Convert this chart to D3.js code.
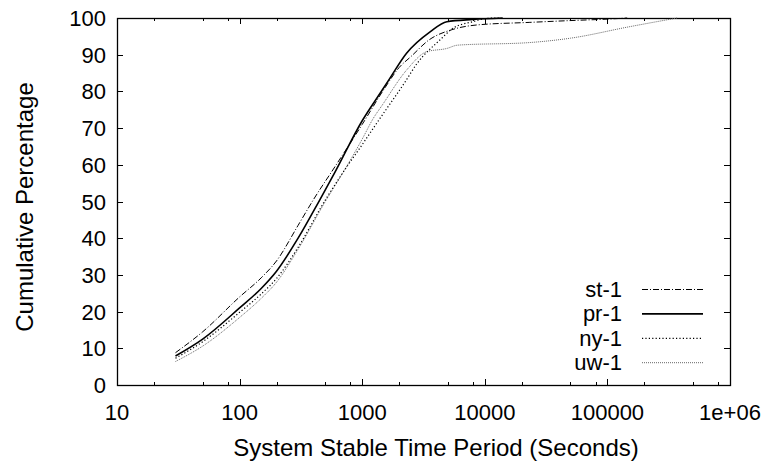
<!DOCTYPE html>
<html>
<head>
<meta charset="utf-8">
<script src="https://cdn.jsdelivr.net/npm/d3@7"></script>
<style>
  body { margin: 0; background: #fff; }
  text { font-family: "Liberation Sans", Arial, sans-serif; fill: #000; }
</style>
</head>
<body>
<svg width="770" height="467"></svg>
<script>
var margin = {top: 18, right: 40, bottom: 82, left: 117};
var width = 770 - margin.left - margin.right;
var height = 467 - margin.top - margin.bottom;
var tickFontSize = 22;
var titleFontSize = 24;

// series values: seconds / cumulative percentage
var stX = [30, 50, 100, 150, 200, 300, 400, 600, 1000, 1500, 2000, 2500, 3500, 5500, 8600, 23000, 50000, 100000, 145000];
var stY = [8.8, 14.5, 24, 29.2, 33.8, 43.5, 50.5, 59.5, 71, 80.5, 86.5, 89.5, 94, 96.9, 98.1, 98.8, 99.3, 99.7, 100];

var prX = [30, 50, 100, 150, 200, 300, 450, 600, 1000, 1400, 1640, 2300, 3600, 4900, 8000, 14000];
var prY = [7.9, 12.5, 21, 26.3, 31, 40, 50.4, 58, 72, 79.5, 83, 90.4, 96.3, 99, 99.6, 100];

var nyX = [30, 50, 100, 150, 200, 300, 500, 700, 1000, 1400, 2240, 2800, 4300, 5500, 8000, 10400, 13000];
var nyY = [7.3, 11.8, 19.8, 24.8, 29, 37.5, 50.4, 58, 65.5, 72.7, 82.6, 87.6, 94, 97.2, 99, 99.9, 100];

var uwX = [30, 50, 100, 150, 200, 300, 500, 700, 1000, 1234, 1460, 2300, 3350, 4900, 6000, 23000, 50000, 150000, 370000];
var uwY = [6.4, 10.6, 18.4, 23.6, 28, 37, 50, 58, 67, 72.7, 76.3, 85.8, 90.8, 91.7, 92.6, 93.3, 94.5, 97.6, 100];

var seriesNames = ["st-1", "pr-1", "ny-1", "uw-1"];
var xTicks = [10, 100, 1000, 10000, 100000, 1000000];
var xTickLabels = ["10", "100", "1000", "10000", "100000", "1e+06"];
var yTicks = [0, 10, 20, 30, 40, 50, 60, 70, 80, 90, 100];

var lineStyles = {
    "st-1": {stroke: "#000", width: 1, dash: "6 2 1 2"},
    "pr-1": {stroke: "#000", width: 1.6, dash: null},
    "ny-1": {stroke: "#000", width: 1.2, dash: "1.2 2.2"},
    "uw-1": {stroke: "#666", width: 1, dash: "1 1"}
};

function zipSeries(xs, ys) {
    return xs.map(function(x, i) { return [x, ys[i]]; });
}

var series = [
    {name: "st-1", points: zipSeries(stX, stY)},
    {name: "pr-1", points: zipSeries(prX, prY)},
    {name: "ny-1", points: zipSeries(nyX, nyY)},
    {name: "uw-1", points: zipSeries(uwX, uwY)}
];

var svg = d3.select("svg");
var g = svg.append("g")
    .attr("transform", "translate(" + margin.left + "," + margin.top + ")");

var x = d3.scaleLog().domain([10, 1000000]).range([0, width]);
var y = d3.scaleLinear().domain([0, 100]).range([height, 0]);

// minor log ticks at 2, 5 and 8 of every decade
var minorTicks = [];
xTicks.slice(0, -1).forEach(function(t) {
    [2, 5, 8].forEach(function(m) { minorTicks.push(t * m); });
});

// ticks, mirrored on top and right like gnuplot does
var ticks = g.append("g").attr("stroke", "#000").attr("stroke-width", 1);
xTicks.forEach(function(t) {
    var px = Math.round(x(t)) + 0.5;
    ticks.append("line").attr("x1", px).attr("x2", px).attr("y1", height).attr("y2", height - 6);
    ticks.append("line").attr("x1", px).attr("x2", px).attr("y1", 0).attr("y2", 6);
});
minorTicks.forEach(function(t) {
    var px = Math.round(x(t)) + 0.5;
    ticks.append("line").attr("x1", px).attr("x2", px).attr("y1", height).attr("y2", height - 3);
    ticks.append("line").attr("x1", px).attr("x2", px).attr("y1", 0).attr("y2", 3);
});
yTicks.forEach(function(t) {
    var py = Math.round(y(t)) + 0.5;
    ticks.append("line").attr("x1", 0).attr("x2", 6).attr("y1", py).attr("y2", py);
    ticks.append("line").attr("x1", width).attr("x2", width - 6).attr("y1", py).attr("y2", py);
});

g.append("rect")
    .attr("x", 0.5).attr("y", 0.5)
    .attr("width", width).attr("height", height)
    .attr("fill", "none").attr("stroke", "#000").attr("stroke-width", 1.3);

// tick labels
g.append("g").selectAll("text")
    .data(xTicks)
    .enter()
    .append("text")
    .attr("x", function(t) { return x(t); })
    .attr("y", height + 35)
    .attr("text-anchor", "middle")
    .style("font-size", tickFontSize + "px")
    .text(function(t, i) { return xTickLabels[i]; });

g.append("g").selectAll("text")
    .data(yTicks)
    .enter()
    .append("text")
    .attr("x", -11)
    .attr("y", function(t) { return y(t) + 8; })
    .attr("text-anchor", "end")
    .style("font-size", tickFontSize + "px")
    .text(function(t) { return t; });

// axis titles
g.append("text")
    .attr("x", 319)
    .attr("y", height + 71)
    .attr("text-anchor", "middle")
    .style("font-size", titleFontSize + "px")
    .text("System Stable Time Period (Seconds)");

g.append("text")
    .attr("transform", "translate(" + (-84) + "," + 189 + ") rotate(-90)")
    .attr("text-anchor", "middle")
    .style("font-size", titleFontSize + "px")
    .text("Cumulative Percentage");

// curves
var line = d3.line()
    .x(function(d) { return x(d[0]); })
    .y(function(d) { return y(d[1]); })
    .curve(d3.curveMonotoneX);

g.append("g").selectAll("path")
    .data(series.slice().reverse())
    .enter()
    .append("path")
    .attr("d", function(s) { return line(s.points); })
    .attr("fill", "none")
    .attr("stroke", function(s) { return lineStyles[s.name].stroke; })
    .attr("stroke-width", function(s) { return lineStyles[s.name].width; })
    .attr("stroke-dasharray", function(s) { return lineStyles[s.name].dash; });

// legend
var legend = g.append("g").attr("transform", "translate(" + (622 - margin.left) + "," + (289 - margin.top) + ")");
seriesNames.forEach(function(name, i) {
    var row = legend.append("g").attr("transform", "translate(0," + (i * 24.4) + ")");
    row.append("text")
        .attr("x", 0)
        .attr("y", 8)
        .attr("text-anchor", "end")
        .style("font-size", tickFontSize + "px")
        .text(name);
    row.append("line")
        .attr("x1", 20).attr("x2", 81)
        .attr("y1", 0.5).attr("y2", 0.5)
        .attr("stroke", lineStyles[name].stroke)
        .attr("stroke-width", lineStyles[name].width)
        .attr("stroke-dasharray", lineStyles[name].dash);
});
</script>
</body>
</html>
